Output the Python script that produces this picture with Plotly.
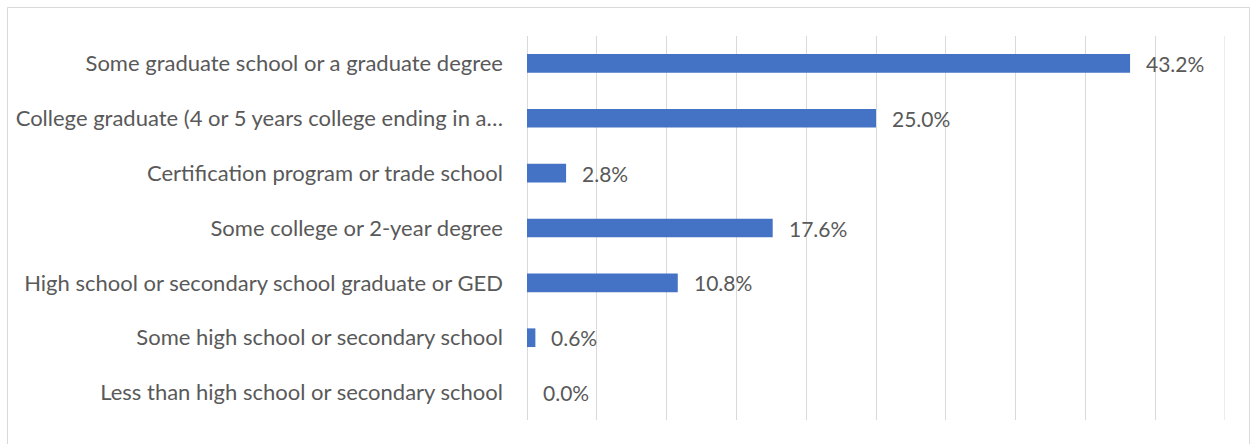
import plotly.graph_objects as go

# Education levels, top to bottom as listed
categories = [
    "Some graduate school or a graduate degree",
    "College graduate (4 or 5 years college ending in a\u2026",
    "Certification program or trade school",
    "Some college or 2-year degree",
    "High school or secondary school graduate or GED",
    "Some high school or secondary school",
    "Less than high school or secondary school",
]
shares = [43.2, 25.0, 2.8, 17.6, 10.8, 0.6, 0.0]
value_labels = ["43.2%", "25.0%", "2.8%", "17.6%", "10.8%", "0.6%", "0.0%"]
x_max = 50

W, H = 1250, 444
L, R, T, B = 527, 25, 36, 24
pw, ph = W - L - R, H - T - B

BAR = "#4472C4"
GRID = "#D9D9D9"
TXT = "#595959"
FONT = "Lato"

fig = go.Figure(
    go.Bar(
        x=shares,
        y=categories,
        orientation="h",
        marker=dict(color=BAR, line=dict(width=0)),
        width=0.34,
        hoverinfo="skip",
    )
)

for cat, v, lab in zip(categories, shares, value_labels):
    fig.add_annotation(
        x=v, y=cat, text=lab, showarrow=False,
        xanchor="left", yanchor="middle", xshift=14,
        font=dict(family=FONT, size=21, color=TXT),
    )

# gridline at the axis maximum (plotly skips the one on the plot edge)
fig.add_shape(
    type="line", xref="x", yref="paper", x0=x_max, x1=x_max, y0=0, y1=1,
    line=dict(color=GRID, width=1), layer="below",
)

# chart frame
def px_x(p):
    return (p - L) / pw

def px_y(p):
    return (H - B - p) / ph

fig.add_shape(
    type="rect", xref="paper", yref="paper",
    x0=px_x(7.5), x1=px_x(1249.5), y0=px_y(470), y1=px_y(7.5),
    line=dict(color=GRID, width=1), layer="below",
)

fig.update_xaxes(
    range=[0, x_max], tick0=0, dtick=5, showgrid=True, gridcolor=GRID, gridwidth=1,
    showticklabels=False, zeroline=True, zerolinecolor=GRID, zerolinewidth=1,
    showline=False, fixedrange=True,
)
fig.update_yaxes(
    categoryorder="array", categoryarray=categories, autorange="reversed",
    tickfont=dict(family=FONT, size=22, color=TXT), ticks="", ticklabelstandoff=23,
    showgrid=False, showline=False, zeroline=False,
)
fig.update_layout(
    width=W, height=H, margin=dict(l=L, r=R, t=T, b=B, autoexpand=False),
    paper_bgcolor="white", plot_bgcolor="white", showlegend=False,
    font=dict(family=FONT),
)

fig.write_html("out.html")
